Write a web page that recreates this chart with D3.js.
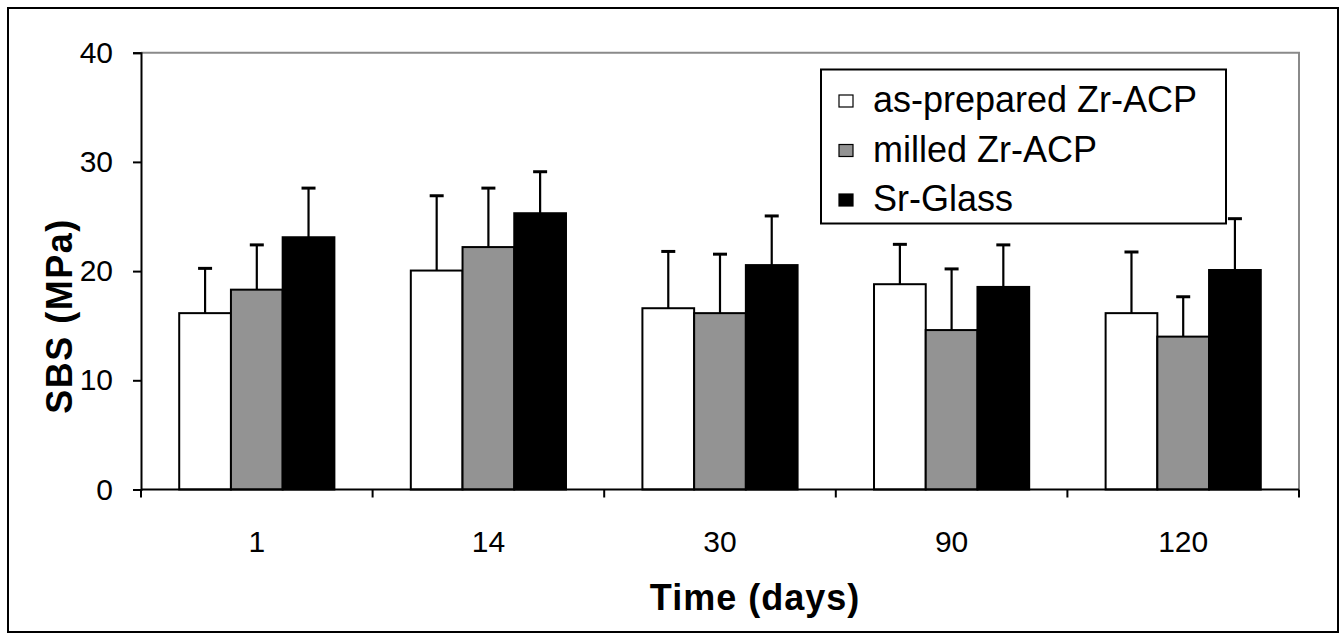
<!DOCTYPE html>
<html>
<head>
<meta charset="utf-8">
<script src="https://cdn.jsdelivr.net/npm/d3@7"></script>
<style>
  html, body { margin: 0; padding: 0; background: #fff; }
  svg { display: block; font-family: "Liberation Sans", Arial, sans-serif; }
</style>
</head>
<body>
<div class="svg-container"></div>
<script>
// chart data
const days = ['1', '14', '30', '90', '120'];
const seriesNames = ['as-prepared Zr-ACP', 'milled Zr-ACP', 'Sr-Glass'];
const seriesColors = ['#ffffff', '#939393', '#000000'];
const asPrepared = [16.15, 20.05, 16.6, 18.8, 16.15];
const asPreparedSD = [4.1, 6.85, 5.2, 3.65, 5.6];
const milled = [18.3, 22.2, 16.15, 14.6, 14.0];
const milledSD = [4.1, 5.4, 5.4, 5.6, 3.65];
const srGlass = [23.1, 25.3, 20.55, 18.55, 20.1];
const srGlassSD = [4.5, 3.8, 4.5, 3.85, 4.7];
const yTicks = [0, 10, 20, 30, 40];

const seriesValues = [asPrepared, milled, srGlass];
const seriesSD = [asPreparedSD, milledSD, srGlassSD];

const W = 1342, H = 635;
const plot = {left: 141, right: 1299, top: 52.7, bottom: 489.5};

const svg = d3.select('.svg-container')
    .append('svg')
    .attr('width', W)
    .attr('height', H);

// outer frame
svg.append('rect')
    .attr('x', 8).attr('y', 8)
    .attr('width', W - 12).attr('height', H - 11)
    .attr('fill', 'none')
    .attr('stroke', '#000')
    .attr('stroke-width', 2);

const x0 = d3.scaleBand()
    .domain(days)
    .range([plot.left, plot.right]);

const gap = x0.bandwidth() * 0.165;
const x1 = d3.scaleBand()
    .domain(seriesNames)
    .range([gap, x0.bandwidth() - gap]);

const y = d3.scaleLinear()
    .domain([0, 40])
    .range([plot.bottom, plot.top]);

// plot frame (top + right, grey)
svg.append('path')
    .attr('d', `M${plot.left},${plot.top}H${plot.right}V${plot.bottom}`)
    .attr('fill', 'none')
    .attr('stroke', '#8a8a8a')
    .attr('stroke-width', 2);

// bars
const groups = svg.selectAll('.grp')
    .data(days)
    .enter().append('g')
    .attr('class', 'grp')
    .attr('transform', d => `translate(${x0(d)},0)`);

seriesNames.forEach((name, s) => {
  groups.append('rect')
      .attr('x', (d, i) => x1(name))
      .attr('y', (d, i) => y(seriesValues[s][i]))
      .attr('width', x1.bandwidth())
      .attr('height', (d, i) => y(0) - y(seriesValues[s][i]))
      .attr('fill', seriesColors[s])
      .attr('stroke', '#000')
      .attr('stroke-width', 2);
});

// error bars (upper only)
seriesNames.forEach((name, s) => {
  const cx = x1(name) + x1.bandwidth() / 2;
  groups.append('line')
      .attr('x1', cx).attr('x2', cx)
      .attr('y1', (d, i) => y(seriesValues[s][i]))
      .attr('y2', (d, i) => y(seriesValues[s][i] + seriesSD[s][i]))
      .attr('stroke', '#000')
      .attr('stroke-width', 2.2);
  groups.append('line')
      .attr('x1', cx - 7).attr('x2', cx + 7)
      .attr('y1', (d, i) => y(seriesValues[s][i] + seriesSD[s][i]))
      .attr('y2', (d, i) => y(seriesValues[s][i] + seriesSD[s][i]))
      .attr('stroke', '#000')
      .attr('stroke-width', 3);
});

// y axis
const yAxis = svg.append('g')
    .attr('transform', `translate(${plot.left},0)`)
    .call(d3.axisLeft(y).tickValues(yTicks).tickSize(8).tickPadding(20));
yAxis.select('.domain').attr('stroke-width', 2);
yAxis.selectAll('.tick line').attr('stroke-width', 2);
yAxis.selectAll('.tick text')
    .attr('font-size', 30)
    .attr('font-family', '"Liberation Sans", Arial, sans-serif')
    .attr('fill', '#000');

// x axis: ticks between categories
const boundaries = days.map(d => x0(d)).concat([plot.right]);
const xAxis = svg.append('g');
xAxis.append('line')
    .attr('x1', plot.left).attr('x2', plot.right)
    .attr('y1', y(0)).attr('y2', y(0))
    .attr('stroke', '#000').attr('stroke-width', 2);
xAxis.selectAll('.xt')
    .data(boundaries)
    .enter().append('line')
    .attr('x1', d => d).attr('x2', d => d)
    .attr('y1', y(0)).attr('y2', y(0) + 8)
    .attr('stroke', '#000').attr('stroke-width', 2);
xAxis.selectAll('.xl')
    .data(days)
    .enter().append('text')
    .attr('x', d => x0(d) + x0.bandwidth() / 2)
    .attr('y', 552)
    .attr('text-anchor', 'middle')
    .attr('font-size', 30)
    .text(d => d);

// axis titles
svg.append('text')
    .attr('x', 755)
    .attr('y', 610)
    .attr('text-anchor', 'middle')
    .attr('font-size', 36)
    .attr('font-weight', 'bold')
    .attr('letter-spacing', 1)
    .text('Time (days)');

svg.append('text')
    .attr('transform', 'translate(72,316) rotate(-90)')
    .attr('text-anchor', 'middle')
    .attr('font-size', 36)
    .attr('font-weight', 'bold')
    .attr('letter-spacing', 1.5)
    .text('SBS (MPa)');

// legend
const legend = svg.append('g');
legend.append('rect')
    .attr('x', 821).attr('y', 69.5)
    .attr('width', 405).attr('height', 154)
    .attr('fill', '#fff')
    .attr('stroke', '#000')
    .attr('stroke-width', 2);

const item = legend.selectAll('.item')
    .data(seriesNames)
    .enter().append('g')
    .attr('class', 'item')
    .attr('transform', (d, i) => `translate(839,${101 + i * 49.5})`);

item.append('rect')
    .attr('x', 0).attr('y', -6)
    .attr('width', 14).attr('height', 12)
    .attr('fill', (d, i) => seriesColors[i])
    .attr('stroke', '#000')
    .attr('stroke-width', 1.2);

item.append('text')
    .attr('x', 34)
    .attr('y', 11)
    .attr('font-size', 36)
    .text(d => d);
</script>
</body>
</html>
